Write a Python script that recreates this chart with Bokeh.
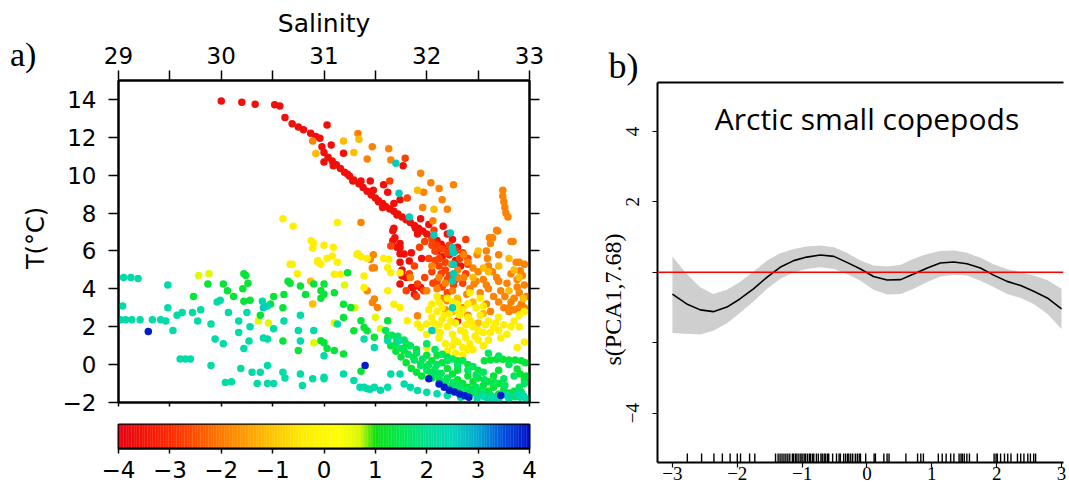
import numpy as np
from bokeh.plotting import figure
from bokeh.layouts import row, column
from bokeh.models import (ColumnDataSource, FixedTicker, Span, Label, LinearAxis, Range1d, Title, Div)
from bokeh.transform import linear_cmap
from bokeh.embed import file_html
from bokeh.resources import INLINE

# ---------------- colour scale (PC1 score) ----------------
cb_vals = [-4.0, -3.0, -2.0, -1.0, -0.4, 0.3, 0.7, 1.0, 1.5, 2.0, 2.5, 3.0, 3.5, 4.0]
cb_cols = ["#e8000f", "#ff2a00", "#ff7a00", "#ffc400", "#ffec00", "#ffff00", "#d8f800",
           "#10e010", "#00e850", "#00e090", "#00d8b8", "#00a8d0", "#0050e0", "#0010c8"]
cb_ticks = [-4, -3, -2, -1, 0, 1, 2, 3, 4]

# ---------------- panel a: T-S points by PC1 group ----------------
red_pc = -3.6
red_pts = [(30.0,13.92),(30.2,13.85),(30.33,13.75),(30.52,13.72),(30.57,13.65),(30.62,13.05),
           (30.69,12.72),(30.75,12.55),(30.8,12.4),(30.87,12.22),(30.92,12.05),(30.96,11.95),
           (31.03,12.65),(30.98,11.5),(31.0,11.2),(31.04,10.95),(31.08,10.75),(31.12,10.55),
           (31.16,10.35),(31.2,10.15),(31.25,9.95),(31.29,9.75),(31.34,9.55),(31.38,9.35),
           (31.42,9.15),(31.46,8.95),(31.5,8.8),(31.53,8.65),(31.57,8.5),(31.6,8.35),
           (31.64,8.22),(31.68,8.1),(31.72,7.95),(31.76,7.8),(31.8,7.65),(31.84,7.5),
           (31.88,7.35),(31.92,7.2),(31.96,7.05),(32.0,6.9),(32.05,6.75),(32.1,6.55),
           (32.14,6.35),(32.18,6.15),(31.07,11.6),(31.19,11.16),(31.23,10.05),(31.28,9.7),
           (31.36,9.7),(31.45,9.7),(31.48,9.2),(31.58,9.5),(31.62,9.1),(31.68,8.5),
           (31.74,8.7),(31.77,10.5),(31.71,7.9),(31.89,7.2),(31.91,6.9),(31.68,7.2),
           (31.69,6.7),(31.74,6.4),(31.74,5.85),(31.74,5.4),(31.76,5.0),(31.74,4.25),
           (31.76,4.68),(31.83,5.47),(31.87,4.07),(31.94,4.07),(32.16,7.3),(32.2,6.9),
           (32.25,6.6),(32.3,6.2),(32.22,5.8),(32.28,5.5),(32.15,5.7),(32.1,6.0),
           (32.33,5.2),(32.3,2.3),(31.94,7.7),(32.02,7.4),(31.0,10.7),(31.74,6.18),
           (31.85,5.9),(31.95,5.6),(31.67,7.07),(31.67,6.54),(31.71,6.19),(31.78,5.84),
           (31.8,4.6),(31.85,4.07),(31.88,3.72),(31.09,10.5),(31.53,8.6),(31.57,8.3)]

redorange_pc = -2.7
redorange_pts = [(32.05,6.6),(32.1,6.3),(32.15,6.1),(32.2,5.9),(32.08,5.5),(32.12,5.2),
                 (32.18,5.0),(32.22,4.7),(32.28,4.5),(32.05,4.9),(32.1,4.4),(32.15,4.1),
                 (32.2,3.8),(32.3,3.3),(32.35,5.9),(32.38,6.6),(32.4,5.3),(31.79,10.9),
                 (31.81,8.8),(31.65,6.26),(31.98,6.5),(32.05,6.3),(32.4,5.6),(32.35,4.3),
                 (32.38,4.8),(31.91,4.25),(31.97,3.9),(31.64,9.7),(32.07,7.1),
                 (32.08,6.0),(32.12,5.6),(32.18,5.4),(32.22,6.3),(32.28,6.0),(32.32,5.6),
                 (32.14,4.8),(32.2,4.5),(32.26,4.2),(32.06,4.3),(31.98,4.6),(32.02,5.6),
                 (31.93,6.2),(31.88,5.2),(31.83,4.8),(31.8,3.9),(31.9,3.6)]

orange_pc = -1.9
orange_pts = [(30.89,11.8),(31.33,12.2),(31.47,11.5),(31.42,10.85),(31.63,11.4),(31.65,10.8),
              (31.94,10.1),(32.04,9.6),(32.12,9.3),(32.26,9.5),(31.97,9.1),(32.15,8.7),
              (32.2,8.2),(31.96,8.3),(32.06,7.6),(31.36,7.5),(31.45,5.56),(31.49,5.12),
              (31.48,5.8),(31.47,5.1),(31.42,3.9),(31.49,3.46),(31.52,3.02),(31.47,3.28),
              (31.84,4.6),(32.0,3.9),(31.91,2.58),(32.2,3.37),(32.39,3.72),(32.46,4.25),
              (32.49,5.8),(32.36,5.8),(32.4,5.4),(32.59,5.6),(32.64,6.7),(32.62,6.4),
              (32.69,7.05),(32.82,6.5),(32.74,9.2),(32.74,8.9),(32.75,8.6),(32.76,8.3),
              (32.77,8.0),(32.79,7.8),(32.9,5.4),(32.91,4.95),(32.55,4.5),(32.6,4.0),
              (32.65,3.6),(32.7,3.3),(32.75,3.0),(32.8,2.8),(32.85,3.5),(32.9,3.8),
              (32.95,4.2),(32.88,4.5),(32.82,4.8),(32.78,4.3),(32.72,3.9),(32.92,3.2),
              (32.85,2.9),(32.95,3.0),(32.68,4.6),(32.58,3.2),(32.62,2.8),(32.1,4.0),
              (32.15,3.5),(32.25,3.9),(32.3,4.6),(32.35,3.0),(32.4,2.6),(32.18,2.9),
              (32.68,7.1),(32.61,6.7),(32.58,6.0),(32.84,6.5),
              (32.05,5.2),(32.12,4.6),(32.18,4.3),(32.24,5.3),(32.3,5.0),(32.36,4.6),
              (32.42,4.0),(32.48,4.4),(32.52,3.8),(32.58,4.2),(32.64,4.9),(32.7,4.4),
              (32.76,3.6),(32.82,3.3),(32.88,4.1),(32.93,4.7),(32.97,3.6),(32.9,3.0),
              (32.8,3.0),(32.95,5.3),(32.87,5.4),(32.7,5.8),(32.6,5.2),(32.45,5.1),(32.5,4.9)]

yelloworange_pc = -1.1
yelloworange_pts = [(31.19,11.8),(31.34,11.9),(31.29,11.2),(30.92,11.15),(31.91,9.2),
                    (32.07,8.2),(32.5,6.0),(32.55,5.1),(32.45,4.6),(32.6,4.9),(32.7,5.2),
                    (32.8,5.6),(32.85,5.0),(32.9,4.6),(32.3,3.5),(32.25,2.8),(32.45,3.3),
                    (32.5,2.2),(32.55,2.7),(30.89,3.2),(30.87,4.4),(32.94,3.5),(32.8,3.9)]

yellow_pc = -0.3
yellow_pts = [(30.6,7.7),(30.7,7.3),(30.9,6.4),(31.0,6.3),(31.03,5.6),(30.69,5.3),(30.94,5.4),
              (30.74,4.8),(31.13,7.5),(31.09,6.2),(30.97,5.3),(31.13,5.4),(31.33,5.85),
              (31.42,5.6),(31.58,5.6),(31.65,4.85),(31.74,4.85),(30.89,6.15),(30.67,5.3),
              (30.94,5.5),(31.08,5.74),(31.1,4.77),(31.16,4.77),(31.32,5.82),(31.36,5.7),
              (31.62,5.12),(31.63,5.56),(31.39,4.68),(31.39,4.07),(31.62,3.9),(31.68,3.19),
              (31.74,3.02),(31.81,2.32),(31.91,2.14),(31.94,1.96),(32.0,2.14),(32.0,1.6),
              (32.65,1.96),(32.78,1.6),(32.88,0.9),(30.875,6.54),(32.05,3.2),(32.1,2.8),
              (32.15,2.4),(32.2,2.0),(32.25,1.6),(32.3,1.2),(32.35,0.9),(32.08,1.8),
              (32.12,1.4),(32.18,1.1),(32.22,2.7),(32.28,2.2),(32.33,1.8),(32.38,1.4),
              (32.42,1.1),(32.45,2.0),(32.4,2.5),(32.35,2.9),(32.3,3.2),(32.45,0.8),
              (32.5,1.3),(32.55,1.7),(32.6,2.3),(32.52,3.5),(32.48,3.0),(32.42,3.8),
              (32.15,3.0),(32.2,3.5),(32.1,3.6),(32.05,2.5),(32.2,0.7),(32.28,0.6),
              (32.35,0.5),(32.7,2.5),(32.75,2.1),(32.85,2.3),(32.9,2.6),(32.95,2.8),
              (32.6,1.3),(32.7,1.8),(32.25,3.3),(32.38,2.1),(32.12,2.1),(32.5,1.8),
              (32.02,2.9),(32.07,2.2),(32.13,1.7),(32.17,2.6),(32.23,2.3),(32.27,1.3),
              (32.32,2.6),(32.37,1.7),(32.43,2.3),(32.47,1.5),(32.52,2.6),(32.57,2.1),
              (32.62,1.7),(32.67,2.2),(32.72,1.4),(32.82,2.0),(32.9,2.0),(32.95,1.2),
              (32.12,3.3),(32.3,2.9),(32.4,3.2),(32.55,3.1),(32.25,1.0),(32.4,0.8),(32.55,1.0)]

ygreen_pc = 0.6
ygreen_pts = [(29.88,4.8),(29.78,4.7),(30.46,2.2),(30.9,1.15),(31.5,2.5),(31.3,3.0),
              (31.1,2.2),(31.55,1.9),(32.0,0.9),(31.2,4.2),(30.36,2.3)]

green_pc = 1.3
green_pts = [(29.87,4.25),(29.73,3.6),(30.02,4.25),(30.06,3.9),(30.12,3.6),(30.22,3.35),
             (30.24,4.7),(30.26,4.3),(30.21,4.0),(30.28,3.4),(30.22,4.8),(30.38,2.6),
             (30.51,3.6),(30.48,3.2),(30.6,3.0),(30.6,1.25),(30.65,4.4),(30.61,3.7),
             (30.67,4.3),(30.77,4.15),(30.82,3.7),(30.75,0.75),(30.9,4.25),(30.97,3.5),
             (31.0,1.15),(31.03,0.85),(31.23,4.85),(30.97,3.9),(31.0,3.72),(31.0,4.25),
             (31.1,3.8),(31.19,3.19),(31.26,3.02),(31.36,2.32),(31.39,1.96),(31.49,1.44),
             (31.62,1.44),(31.71,1.26),(31.78,0.74),(31.87,0.39),(31.94,0.04),(32.04,-0.4),
             (31.19,2.49),(31.29,1.79),(31.42,1.79),(30.97,1.26),(31.1,0.74),(31.19,0.56),
             (31.62,2.32),(31.65,1.0),(31.7,0.7),(31.75,0.4),(31.8,0.1),(31.85,-0.2),
             (31.9,-0.4),(31.95,-0.6),(32.0,-0.1),(32.05,0.2),(32.1,0.5),(32.15,0.1),
             (32.2,-0.2),(32.25,-0.5),(32.3,-0.8),(32.35,-1.0),(32.4,-1.2),(32.45,-1.3),
             (32.5,-1.45),(32.55,-1.55),(32.6,-1.4),(32.65,-1.2),(32.7,-1.0),(32.75,-1.3),
             (32.8,-1.5),(32.85,-1.4),(32.3,-0.3),(32.4,-0.6),(32.45,-0.9),(32.55,-1.1),
             (32.6,-0.9),(32.5,-0.7),(32.2,0.4),(32.3,0.2),(32.4,0.0),(32.5,-0.3),
             (32.1,-0.5),(32.0,0.5),(31.9,0.8),(31.8,1.1),(32.65,-0.6),(32.7,-0.3),
             (32.05,-0.7),(32.15,-0.9),(32.25,-1.1),(32.56,0.21),(32.62,0.25),(32.68,0.28),
             (32.74,0.28),(32.8,0.25),(32.86,0.24),(32.92,0.2),(32.96,0.1),(32.88,-0.23),
             (32.91,-0.49),(32.95,-0.8),(32.97,-0.6),(31.36,-0.35),(32.6,-1.65),(32.7,-1.55)]

greenband_pc = 1.6
greenband_pts = [(31.6,1.8),(31.66,1.55),(31.72,1.5),(31.78,1.3),(31.84,1.0),(31.9,0.6),
                 (31.96,0.3),(32.02,0.0),(32.08,-0.25),(32.14,-0.45),(32.2,-0.7),(32.26,-0.95),
                 (32.32,-1.15),(32.38,-1.35),(32.44,-1.5),(32.5,-1.6),(32.56,-1.7),(31.7,1.05),
                 (31.76,0.85),(31.82,0.55),(31.88,0.25),(31.94,-0.05),(32.0,-0.3),(32.06,-0.5),
                 (32.12,-0.75),(32.18,-0.95),(32.24,-1.2),(32.3,-1.4),(32.36,-1.55),(32.42,-1.4),
                 (32.48,-1.2),(32.54,-1.35),(32.62,-1.6),(32.68,-1.7),(32.74,-1.55),(32.8,-1.65),
                 (32.86,-1.7),(32.1,0.0),(32.2,0.2),(32.3,-0.05),(32.4,-0.3),(32.48,-0.55),
                 (32.56,-0.8),(32.66,-0.95),(32.76,-1.1),(32.9,-1.2),(32.95,-1.0),(32.92,-1.45),
                 (32.0,1.1),(32.08,0.8),(32.15,0.55),(32.25,0.3),(32.35,0.2),(32.45,-0.1),
                 (32.55,-0.4),(32.6,0.6),(32.7,0.45),(32.8,0.0),(32.85,-0.6),(32.75,-0.75)]

teal_pc = 2.3
teal_pts = [(29.05,4.6),(29.12,4.6),(29.19,4.55),(29.04,3.1),(29.02,2.37),(29.07,2.37),
            (29.13,2.37),(29.21,2.37),(29.33,2.37),(29.41,2.37),(29.46,2.3),(29.48,4.2),
            (29.48,3.0),(29.53,1.8),(29.57,2.6),(29.62,2.75),(29.72,2.75),(29.77,2.3),
            (29.8,2.9),(29.9,2.15),(29.94,1.35),(30.02,1.1),(29.6,0.3),(29.65,0.3),
            (29.9,-0.05),(30.04,-0.95),(29.96,3.3),(29.99,3.4),(30.07,2.75),(30.17,2.3),
            (30.25,2.75),(30.28,2.0),(30.17,1.7),(30.27,1.25),(30.22,0.85),(30.19,-0.2),
            (30.3,-0.4),(30.38,-0.4),(30.35,-1.0),(30.45,-1.0),(30.51,-1.0),(30.4,3.35),
            (30.45,3.1),(30.51,1.9),(30.41,1.4),(30.45,1.35),(30.45,-0.05),(30.61,2.3),
            (30.6,-0.4),(30.62,-0.7),(30.77,2.6),(30.75,1.8),(30.77,1.25),(30.77,-0.5),
            (30.79,-1.1),(30.9,1.8),(30.89,-0.75),(31.0,-0.75),(31.13,2.14),(31.39,1.35),
            (31.49,0.91),(31.62,1.26),(31.73,1.26),(31.0,0.47),(31.0,-0.67),(31.19,-0.49),
            (31.29,-0.84),(31.39,-1.19),(31.42,-1.28),(31.49,-1.19),(31.62,-1.19),
            (31.65,-0.49),(31.74,-0.49),(31.78,-1.02),(31.84,-1.19),(31.91,-1.37),
            (32.0,-1.46),(32.1,-1.54),(32.2,-1.63),(32.33,-1.72),(32.49,-1.8),(32.65,-1.72),
            (32.78,-1.63),(32.88,-1.54),(32.94,-1.63),(32.91,-1.72),(32.6,-1.8),(32.7,-1.85),
            (32.8,-1.8),(32.97,-1.8),(32.55,-1.65),(31.35,-1.2),(31.45,-1.3),(31.55,-1.35),
            (29.7,0.3),(30.1,-0.9)]

cyan_pc = 2.6
cyan_pts = [(31.7,10.63),(31.73,9.05),(31.83,7.8),(32.07,6.84),(32.23,6.95),(32.26,5.9),
            (32.26,5.3),(32.26,4.8),(32.25,6.18),(32.25,4.42),(32.25,3.0),(32.05,1.8),
            (30.41,3.0)]

blue_pc = 3.9
blue_pts = [(29.29,1.75),(31.4,-0.05),(32.02,-0.75),(32.12,-1.02),(32.17,-1.2),(32.22,-1.35),
            (32.27,-1.45),(32.32,-1.55),(32.37,-1.65),(32.41,-1.72),(32.72,-1.63)]

sal_ticks = [29, 30, 31, 32, 33]
sal_minor = [29.5, 30.5, 31.5, 32.5]
temp_ticks = [-2, 0, 2, 4, 6, 8, 10, 12, 14]

# ---------------- panel b: GAM smooth ----------------
pca_x = [-3.0,-2.78,-2.57,-2.37,-2.16,-1.96,-1.75,-1.54,-1.34,-1.13,-0.93,-0.72,-0.51,-0.31,
         -0.10,0.10,0.31,0.52,0.72,0.93,1.13,1.34,1.54,1.75,1.96,2.16,2.37,2.57,2.78,3.0]
fit_y = [-0.62,-0.90,-1.07,-1.12,-0.99,-0.76,-0.47,-0.14,0.14,0.33,0.43,0.49,0.45,0.28,
         0.09,-0.12,-0.22,-0.21,-0.05,0.12,0.26,0.29,0.24,0.12,-0.09,-0.26,-0.38,-0.54,-0.73,-1.04]
upper_y = [0.45,-0.05,-0.43,-0.62,-0.50,-0.28,0.02,0.33,0.54,0.66,0.73,0.76,0.71,0.55,
           0.33,0.19,0.16,0.21,0.38,0.52,0.60,0.62,0.55,0.41,0.22,0.09,0.0,-0.09,-0.22,-0.47]
lower_y = [-1.73,-1.75,-1.77,-1.66,-1.45,-1.16,-0.83,-0.47,-0.19,0.0,0.09,0.14,0.09,-0.05,
           -0.24,-0.50,-0.63,-0.62,-0.47,-0.28,-0.12,-0.07,-0.09,-0.24,-0.43,-0.62,-0.73,-0.90,-1.18,-1.61]
rug_x = [-2.77,-2.55,-2.36,-2.23,-2.11,-2.00,-1.95,-1.81,-1.73,-1.41,-1.37,-1.34,-1.31,-1.28,
         -1.25,-1.22,-1.19,-1.15,-1.13,-1.10,-1.08,-1.05,-1.02,-1.00,-0.97,-0.95,-0.92,-0.89,
         -0.87,-0.84,-0.82,-0.78,-0.75,-0.71,-0.69,-0.66,-0.64,-0.61,-0.59,-0.53,-0.47,-0.43,
         -0.41,-0.36,-0.33,-0.30,-0.28,-0.25,-0.22,-0.18,-0.15,-0.12,-0.10,-0.02,0.11,0.13,
         0.26,0.31,0.34,0.60,0.78,0.83,0.87,1.10,1.16,1.22,1.29,1.34,1.42,1.45,1.47,1.50,
         1.54,1.58,1.70,1.96,1.99,2.01,2.06,2.12,2.17,2.22,2.32,2.37,2.42,2.48,2.52,2.57,2.60]
b_xticks = [-3, -2, -1, 0, 1, 2, 3]
b_yticks_labelled = [-4, 2, 4]
b_yticks_plain = [-2, 0]

# ---------------- palette from colour-bar anchors ----------------
def _rgb(h):
    return tuple(int(h[i:i + 2], 16) for i in (1, 3, 5))

palette = []
for i in range(256):
    v = -4 + 8 * i / 255
    k = 0
    while k < len(cb_vals) - 2 and v > cb_vals[k + 1]:
        k += 1
    t = (v - cb_vals[k]) / (cb_vals[k + 1] - cb_vals[k])
    c0, c1 = _rgb(cb_cols[k]), _rgb(cb_cols[k + 1])
    palette.append("#%02x%02x%02x" % tuple(int(round(a + (b - a) * t)) for a, b in zip(c0, c1)))

groups = [(red_pts, red_pc), (redorange_pts, redorange_pc), (orange_pts, orange_pc),
          (yelloworange_pts, yelloworange_pc), (yellow_pts, yellow_pc), (ygreen_pts, ygreen_pc),
          (green_pts, green_pc), (greenband_pts, greenband_pc), (teal_pts, teal_pc),
          (cyan_pts, cyan_pc), (blue_pts, blue_pc)]
S, T, PC = [], [], []
for pts, pc in groups:
    for s, t in pts:
        S.append(s); T.append(t); PC.append(pc)
src = ColumnDataSource(dict(sal=S, temp=T, pc=PC))

SANS = "DejaVu Sans"
SERIF = "Liberation Serif"
H = 487

# ---------------- narrow strip with "a)" and the temperature axis title ----------------
strip_html = (
    '<div style="position:relative;width:50px;height:487px;margin:0;padding:0;">'
    '<span style="position:absolute;left:10px;top:38px;font-family:\'Liberation Serif\';'
    'font-size:34px;line-height:34px;color:#000;white-space:nowrap;">a)</span>'
    '<span style="position:absolute;left:0px;top:226px;width:72px;text-align:center;'
    'font-family:\'DejaVu Sans\';font-size:24px;line-height:24px;color:#000;white-space:nowrap;'
    'transform:translate(-0.5px,0px) rotate(-90deg);transform-origin:36px 12px;">T(\u00b0C)</span>'
    '</div>')
strip = Div(text=strip_html, width=50, height=H, styles={"margin": "0", "padding": "0",
                                                       "overflow": "visible"})

# ---------------- panel a figure ----------------
p1 = figure(width=540, height=415, x_range=Range1d(29, 33), y_range=Range1d(-2, 15),
            x_axis_location="above", output_backend="svg", toolbar_location=None,
            min_border_left=68, min_border_right=61, min_border_top=80, min_border_bottom=13)
p1.grid.visible = False
p1.outline_line_color = "black"
p1.outline_line_width = 2
p1.scatter("sal", "temp", source=src, size=7.5, line_color=None,
           fill_color=linear_cmap("pc", palette, -4, 4))

xt = FixedTicker(ticks=sal_ticks, minor_ticks=sal_minor)
yt = FixedTicker(ticks=temp_ticks)
p1.xaxis.ticker = xt
p1.yaxis.ticker = yt
p1.yaxis.major_label_overrides = {-2: "\u22122"}
for ax in (p1.xaxis[0], p1.yaxis[0]):
    ax.axis_line_width = 2
    ax.major_tick_line_width = 1.5
    ax.minor_tick_line_width = 1.5
    ax.major_tick_out = 10
    ax.major_tick_in = 0
    ax.major_label_text_font = SANS
    ax.major_label_text_font_size = "23px"
    ax.major_label_text_color = "black"
    ax.axis_label_text_font = SANS
    ax.axis_label_text_font_style = "normal"
    ax.axis_label_text_color = "black"
p1.xaxis.minor_tick_out = 10
p1.xaxis.minor_tick_in = 0
p1.yaxis.minor_tick_out = 0
p1.yaxis.minor_tick_in = 0
p1.xaxis.axis_label = "Salinity"
p1.xaxis.axis_label_text_font_size = "25px"
p1.xaxis.major_label_standoff = 7
p1.xaxis.axis_label_standoff = 6
p1.yaxis.major_label_standoff = 12

# tick-only axes on the right and bottom (ticks drawn as unlabeled minor ticks)
ax_r = LinearAxis(ticker=FixedTicker(ticks=[], minor_ticks=temp_ticks), major_tick_out=0,
                  major_tick_in=0, minor_tick_out=10, minor_tick_in=0, axis_line_width=2,
                  minor_tick_line_width=1.5, major_label_standoff=0)
p1.add_layout(ax_r, "right")
ax_b = LinearAxis(ticker=FixedTicker(ticks=[], minor_ticks=sal_ticks + sal_minor),
                  major_tick_out=0, major_tick_in=0, minor_tick_out=4, minor_tick_in=0,
                  axis_line_width=2, minor_tick_line_width=1.5, major_label_standoff=0)
p1.add_layout(ax_b, "below")

# ---------------- colour bar figure ----------------
edges = np.linspace(-4, 4, len(palette) + 1)
p2 = figure(width=540, height=H - 415, x_range=Range1d(-4, 4), y_range=Range1d(0, 1),
            output_backend="svg", toolbar_location=None,
            min_border_left=68, min_border_right=61, min_border_top=9, min_border_bottom=39)
p2.grid.visible = False
p2.yaxis.visible = False
p2.quad(left=edges[:-1], right=edges[1:] + 0.005, bottom=0, top=1, color=palette, line_color=None)
p2.outline_line_color = "black"
p2.outline_line_width = 2
p2.xaxis.ticker = FixedTicker(ticks=cb_ticks)
p2.xaxis.major_label_overrides = {t: (str(t) if t >= 0 else "\u2212" + str(-t)) for t in cb_ticks}
p2.xaxis.axis_line_width = 2
p2.xaxis.major_tick_out = 5
p2.xaxis.major_tick_in = 0
p2.xaxis.major_tick_line_width = 1.5
p2.xaxis.minor_tick_out = 0
p2.xaxis.minor_tick_in = 0
p2.xaxis.major_label_text_font = SANS
p2.xaxis.major_label_text_font_size = "23px"
p2.xaxis.major_label_text_color = "black"
p2.xaxis.major_label_standoff = 7

# ---------------- panel b figure ----------------
px_per = 35.2
ytop = 5.39
fh = 380
p3 = figure(width=479, height=H, x_range=Range1d(-3.23, 3.03),
            y_range=Range1d(ytop - fh / px_per, ytop), output_backend="svg",
            toolbar_location=None, min_border_left=67, min_border_right=6,
            min_border_top=82, min_border_bottom=H - 82 - fh)
p3.grid.visible = False
p3.outline_line_color = None
p3.varea(x=pca_x, y1=lower_y, y2=upper_y, fill_color="#cfcfcf")
p3.line(pca_x, fit_y, line_color="black", line_width=1.6)
p3.add_layout(Span(location=0, dimension="width", line_color="#ff0000", line_width=1.5))
ybot = ytop - fh / px_per
p3.segment(x0=rug_x, y0=[ybot] * len(rug_x), x1=rug_x, y1=[ybot + 9 / px_per] * len(rug_x),
           line_color="black", line_width=1.4)

p3.xaxis.ticker = FixedTicker(ticks=b_xticks)
p3.yaxis.ticker = FixedTicker(ticks=b_yticks_labelled, minor_ticks=b_yticks_plain)
p3.yaxis.major_label_orientation = "vertical"
for ax in (p3.xaxis[0], p3.yaxis[0]):
    ax.axis_line_width = 2
    ax.major_tick_out = 5
    ax.major_tick_in = 0
    ax.minor_tick_out = 0
    ax.minor_tick_in = 0
    ax.major_tick_line_width = 1.2
    ax.minor_tick_line_width = 1.2
    ax.major_label_text_font = SERIF
    ax.major_label_text_font_size = "19px"
    ax.major_label_text_color = "black"
p3.yaxis.minor_tick_out = 5
p3.xaxis.major_label_standoff = -1
p3.yaxis.major_label_standoff = 13
ax_t = LinearAxis(ticker=FixedTicker(ticks=[]), major_tick_out=0, minor_tick_out=0,
                  axis_line_width=2, major_label_standoff=0)
p3.add_layout(ax_t, "above")

p3.add_layout(Title(text="s(PCA1,7.68)", align="left", offset=97, standoff=-4,
                    text_font=SERIF, text_font_size="24px", text_font_style="normal",
                    text_color="black"), "left")
p3.add_layout(Title(text="b)", align="left", offset=-49, standoff=-6,
                    text_font=SERIF, text_font_size="36px", text_font_style="normal",
                    text_color="black"), "above")
p3.add_layout(Label(x=0.0, y=4.38, text="Arctic small copepods", text_align="center",
                    text_baseline="alphabetic", text_font="Open Sans", text_font_size="30px",
                    text_color="black"))

layout = row(strip, column(p1, p2), p3)
open("out.html", "w").write(file_html(layout, INLINE))
